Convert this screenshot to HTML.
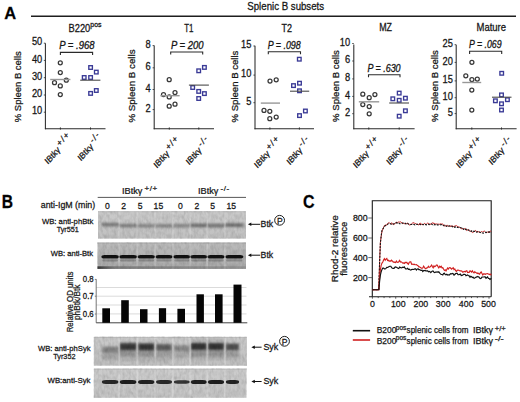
<!DOCTYPE html>
<html><head><meta charset="utf-8"><style>
html,body{margin:0;padding:0;background:#fff;width:520px;height:402px;overflow:hidden}
svg{display:block}
text{font-family:"Liberation Sans",sans-serif;stroke:#161616;stroke-width:0.25px}
</style></head><body>
<svg width="520" height="402" viewBox="0 0 520 402">
<defs><filter id="bl" x="-20%" y="-100%" width="140%" height="300%"><feGaussianBlur stdDeviation="0.75"/></filter><filter id="bl2" x="-20%" y="-100%" width="140%" height="300%"><feGaussianBlur stdDeviation="1.3"/></filter><filter id="noise" x="0" y="0" width="100%" height="100%"><feTurbulence type="fractalNoise" baseFrequency="0.35 0.2" numOctaves="2" seed="3"/><feColorMatrix type="matrix" values="0 0 0 0 0  0 0 0 0 0  0 0 0 0 0  0.9 0.9 0.9 0 -1.1"/></filter></defs>
<text transform="translate(4.3,19.4) scale(1,1.05)" font-size="16.5" font-weight="bold" stroke-width="0.3" fill="#000" >A</text>
<line x1="31" y1="16.3" x2="516" y2="16.3" stroke="#1e1e1e" stroke-width="1.5"/>
<text transform="translate(247.3,10.4) scale(1,1.12)" font-size="9.7" textLength="76.8" lengthAdjust="spacingAndGlyphs" fill="#161616" >Splenic B subsets</text>
<line x1="45.4" y1="43.2" x2="45.4" y2="129.3" stroke="#2a2a2a" stroke-width="1.05"/>
<line x1="44.9" y1="128.8" x2="105.5" y2="128.8" stroke="#2a2a2a" stroke-width="1.05"/>
<line x1="60.4" y1="127.4" x2="60.4" y2="129.60000000000002" stroke="#2a2a2a" stroke-width="0.9"/>
<line x1="90.5" y1="127.4" x2="90.5" y2="129.60000000000002" stroke="#2a2a2a" stroke-width="0.9"/>
<text transform="translate(42.3,45.4) scale(1,1.1)" font-size="9.3" text-anchor="end" fill="#161616" >50</text>
<line x1="43.8" y1="43.199999999999996" x2="45.4" y2="43.199999999999996" stroke="#2a2a2a" stroke-width="0.8"/>
<text transform="translate(42.3,62.6) scale(1,1.1)" font-size="9.3" text-anchor="end" fill="#161616" >40</text>
<line x1="43.8" y1="60.4" x2="45.4" y2="60.4" stroke="#2a2a2a" stroke-width="0.8"/>
<text transform="translate(42.3,79.9) scale(1,1.1)" font-size="9.3" text-anchor="end" fill="#161616" >30</text>
<line x1="43.8" y1="77.7" x2="45.4" y2="77.7" stroke="#2a2a2a" stroke-width="0.8"/>
<text transform="translate(42.3,97.2) scale(1,1.1)" font-size="9.3" text-anchor="end" fill="#161616" >20</text>
<line x1="43.8" y1="95.0" x2="45.4" y2="95.0" stroke="#2a2a2a" stroke-width="0.8"/>
<text transform="translate(42.3,114.4) scale(1,1.1)" font-size="9.3" text-anchor="end" fill="#161616" >10</text>
<line x1="43.8" y1="112.2" x2="45.4" y2="112.2" stroke="#2a2a2a" stroke-width="0.8"/>
<text transform="translate(68.6,31.6) scale(1,1.12)" font-size="9.3" fill="#161616">B220<tspan font-size="7" dy="-4">pos</tspan></text>
<text transform="translate(59.2,49.0) scale(1,1.2)" font-size="8.8" textLength="35.3" lengthAdjust="spacingAndGlyphs" font-style="italic" fill="#161616" >P = .968</text>
<path d="M60.4 55.0 V52.4 H92.6 V55.0" fill="none" stroke="#2a2a2a" stroke-width="1.1"/>
<circle cx="60.3" cy="62.8" r="2.0" fill="none" stroke="#383838" stroke-width="1.25"/>
<circle cx="60.3" cy="72.5" r="2.0" fill="none" stroke="#383838" stroke-width="1.25"/>
<circle cx="54.5" cy="82.7" r="2.0" fill="none" stroke="#383838" stroke-width="1.25"/>
<circle cx="66.3" cy="80.2" r="2.0" fill="none" stroke="#383838" stroke-width="1.25"/>
<circle cx="60.3" cy="85.9" r="2.0" fill="none" stroke="#383838" stroke-width="1.25"/>
<circle cx="60.3" cy="94.6" r="2.0" fill="none" stroke="#383838" stroke-width="1.25"/>
<rect x="88.8" y="65.7" width="3.6" height="3.6" fill="none" stroke="#3a3a96" stroke-width="1.35"/>
<rect x="94.5" y="70.3" width="3.6" height="3.6" fill="none" stroke="#3a3a96" stroke-width="1.35"/>
<rect x="82.4" y="75.7" width="3.6" height="3.6" fill="none" stroke="#3a3a96" stroke-width="1.35"/>
<rect x="88.8" y="75.7" width="3.6" height="3.6" fill="none" stroke="#3a3a96" stroke-width="1.35"/>
<rect x="94.5" y="88.7" width="3.6" height="3.6" fill="none" stroke="#3a3a96" stroke-width="1.35"/>
<rect x="88.8" y="91.60000000000001" width="3.6" height="3.6" fill="none" stroke="#3a3a96" stroke-width="1.35"/>
<line x1="50.2" y1="79.5" x2="70.4" y2="79.5" stroke="#979797" stroke-width="1.4"/>
<line x1="80.2" y1="80.2" x2="100.4" y2="80.2" stroke="#4a4a4a" stroke-width="1.1"/>
<text transform="translate(21.3,86.75) rotate(-90)" font-size="9.5" text-anchor="middle" textLength="70.9" lengthAdjust="spacingAndGlyphs" fill="#161616" >% Spleen B cells</text>
<text transform="translate(71.5,137.9) scale(1,1.15) rotate(-45)" text-anchor="end" font-size="8.0" fill="#161616">IBtk&#947;<tspan font-size="8.0" dy="-2.8" dx="1.6 1.1 1.1">+/+</tspan></text>
<text transform="translate(101.6,137.9) scale(1,1.15) rotate(-45)" text-anchor="end" font-size="8.0" fill="#161616">IBtk&#947;<tspan font-size="8.0" dy="-2.8" dx="1.6 1.1 1.1">-/-</tspan></text>
<line x1="154.2" y1="45.4" x2="154.2" y2="129.3" stroke="#2a2a2a" stroke-width="1.05"/>
<line x1="153.7" y1="128.8" x2="214" y2="128.8" stroke="#2a2a2a" stroke-width="1.05"/>
<line x1="169.3" y1="127.4" x2="169.3" y2="129.60000000000002" stroke="#2a2a2a" stroke-width="0.9"/>
<line x1="198.8" y1="127.4" x2="198.8" y2="129.60000000000002" stroke="#2a2a2a" stroke-width="0.9"/>
<text transform="translate(150.6,47.8) scale(1,1.1)" font-size="9.3" text-anchor="end" fill="#161616" >8</text>
<line x1="152.6" y1="45.599999999999994" x2="154.2" y2="45.599999999999994" stroke="#2a2a2a" stroke-width="0.8"/>
<text transform="translate(150.6,70.0) scale(1,1.1)" font-size="9.3" text-anchor="end" fill="#161616" >6</text>
<line x1="152.6" y1="67.8" x2="154.2" y2="67.8" stroke="#2a2a2a" stroke-width="0.8"/>
<text transform="translate(150.6,91.7) scale(1,1.1)" font-size="9.3" text-anchor="end" fill="#161616" >4</text>
<line x1="152.6" y1="89.5" x2="154.2" y2="89.5" stroke="#2a2a2a" stroke-width="0.8"/>
<text transform="translate(150.6,111.8) scale(1,1.1)" font-size="9.3" text-anchor="end" fill="#161616" >2</text>
<line x1="152.6" y1="109.6" x2="154.2" y2="109.6" stroke="#2a2a2a" stroke-width="0.8"/>
<text transform="translate(184.2,31.7) scale(1,1.13)" font-size="9.3" textLength="9.3" lengthAdjust="spacingAndGlyphs" fill="#161616" >T1</text>
<text transform="translate(171,49.2) scale(1,1.2)" font-size="8.8" textLength="32.5" lengthAdjust="spacingAndGlyphs" font-style="italic" fill="#161616" >P = 200</text>
<path d="M170.7 54.6 V52.0 H202.7 V54.6" fill="none" stroke="#2a2a2a" stroke-width="1.1"/>
<circle cx="169.2" cy="79.7" r="2.0" fill="none" stroke="#383838" stroke-width="1.25"/>
<circle cx="163.5" cy="94.6" r="2.0" fill="none" stroke="#383838" stroke-width="1.25"/>
<circle cx="169.2" cy="96.9" r="2.0" fill="none" stroke="#383838" stroke-width="1.25"/>
<circle cx="175" cy="92.6" r="2.0" fill="none" stroke="#383838" stroke-width="1.25"/>
<circle cx="169.2" cy="106.2" r="2.0" fill="none" stroke="#383838" stroke-width="1.25"/>
<circle cx="175" cy="104.2" r="2.0" fill="none" stroke="#383838" stroke-width="1.25"/>
<rect x="196.89999999999998" y="69.0" width="3.6" height="3.6" fill="none" stroke="#3a3a96" stroke-width="1.35"/>
<rect x="202.6" y="65.60000000000001" width="3.6" height="3.6" fill="none" stroke="#3a3a96" stroke-width="1.35"/>
<rect x="190.89999999999998" y="85.7" width="3.6" height="3.6" fill="none" stroke="#3a3a96" stroke-width="1.35"/>
<rect x="196.89999999999998" y="89.60000000000001" width="3.6" height="3.6" fill="none" stroke="#3a3a96" stroke-width="1.35"/>
<rect x="202.6" y="91.8" width="3.6" height="3.6" fill="none" stroke="#3a3a96" stroke-width="1.35"/>
<rect x="196.89999999999998" y="96.7" width="3.6" height="3.6" fill="none" stroke="#3a3a96" stroke-width="1.35"/>
<line x1="160.4" y1="95.7" x2="179.6" y2="95.7" stroke="#979797" stroke-width="1.4"/>
<line x1="188.9" y1="85.1" x2="208.9" y2="85.1" stroke="#4a4a4a" stroke-width="1.1"/>
<text transform="translate(135.2,86.0) rotate(-90)" font-size="9.5" text-anchor="middle" textLength="73.0" lengthAdjust="spacingAndGlyphs" fill="#161616" >% Spleen B cells</text>
<text transform="translate(180.4,141.70000000000002) scale(1,1.15) rotate(-45)" text-anchor="end" font-size="8.0" fill="#161616">IBtk&#947;<tspan font-size="8.0" dy="-2.8" dx="1.6 1.1 1.1">+/+</tspan></text>
<text transform="translate(209.9,141.70000000000002) scale(1,1.15) rotate(-45)" text-anchor="end" font-size="8.0" fill="#161616">IBtk&#947;<tspan font-size="8.0" dy="-2.8" dx="1.6 1.1 1.1">-/-</tspan></text>
<line x1="255" y1="45.8" x2="255" y2="129.3" stroke="#2a2a2a" stroke-width="1.05"/>
<line x1="254.5" y1="128.8" x2="314" y2="128.8" stroke="#2a2a2a" stroke-width="1.05"/>
<line x1="269.9" y1="127.4" x2="269.9" y2="129.60000000000002" stroke="#2a2a2a" stroke-width="0.9"/>
<line x1="299.4" y1="127.4" x2="299.4" y2="129.60000000000002" stroke="#2a2a2a" stroke-width="0.9"/>
<text transform="translate(251.4,48.2) scale(1,1.1)" font-size="9.3" text-anchor="end" fill="#161616" >15</text>
<line x1="253.4" y1="46.0" x2="255" y2="46.0" stroke="#2a2a2a" stroke-width="0.8"/>
<text transform="translate(251.4,77.3) scale(1,1.1)" font-size="9.3" text-anchor="end" fill="#161616" >10</text>
<line x1="253.4" y1="75.1" x2="255" y2="75.1" stroke="#2a2a2a" stroke-width="0.8"/>
<text transform="translate(251.4,104.9) scale(1,1.1)" font-size="9.3" text-anchor="end" fill="#161616" >5</text>
<line x1="253.4" y1="102.7" x2="255" y2="102.7" stroke="#2a2a2a" stroke-width="0.8"/>
<text transform="translate(281.5,31.7) scale(1,1.13)" font-size="9.3" textLength="10.5" lengthAdjust="spacingAndGlyphs" fill="#161616" >T2</text>
<text transform="translate(267.7,48.900000000000006) scale(1,1.2)" font-size="8.8" textLength="33" lengthAdjust="spacingAndGlyphs" font-style="italic" fill="#161616" >P = .098</text>
<path d="M268.3 54.3 V51.699999999999996 H300.5 V54.3" fill="none" stroke="#2a2a2a" stroke-width="1.1"/>
<circle cx="270" cy="81.1" r="2.0" fill="none" stroke="#383838" stroke-width="1.25"/>
<circle cx="276.2" cy="79.8" r="2.0" fill="none" stroke="#383838" stroke-width="1.25"/>
<circle cx="264" cy="110.4" r="2.0" fill="none" stroke="#383838" stroke-width="1.25"/>
<circle cx="269.8" cy="111.3" r="2.0" fill="none" stroke="#383838" stroke-width="1.25"/>
<circle cx="269.8" cy="118.7" r="2.0" fill="none" stroke="#383838" stroke-width="1.25"/>
<circle cx="276.2" cy="117.1" r="2.0" fill="none" stroke="#383838" stroke-width="1.25"/>
<rect x="297.5" y="57.400000000000006" width="3.6" height="3.6" fill="none" stroke="#3a3a96" stroke-width="1.35"/>
<rect x="291.7" y="83.8" width="3.6" height="3.6" fill="none" stroke="#3a3a96" stroke-width="1.35"/>
<rect x="297.7" y="81.4" width="3.6" height="3.6" fill="none" stroke="#3a3a96" stroke-width="1.35"/>
<rect x="297.7" y="89.0" width="3.6" height="3.6" fill="none" stroke="#3a3a96" stroke-width="1.35"/>
<rect x="303.59999999999997" y="109.2" width="3.6" height="3.6" fill="none" stroke="#3a3a96" stroke-width="1.35"/>
<rect x="297.7" y="113.8" width="3.6" height="3.6" fill="none" stroke="#3a3a96" stroke-width="1.35"/>
<line x1="260.8" y1="103.1" x2="280" y2="103.1" stroke="#979797" stroke-width="1.4"/>
<line x1="290" y1="91.2" x2="309.2" y2="91.2" stroke="#4a4a4a" stroke-width="1.1"/>
<text transform="translate(238.2,86.55) rotate(-90)" font-size="9.5" text-anchor="middle" textLength="71.9" lengthAdjust="spacingAndGlyphs" fill="#161616" >% Spleen B cells</text>
<text transform="translate(281.0,141.70000000000002) scale(1,1.15) rotate(-45)" text-anchor="end" font-size="8.0" fill="#161616">IBtk&#947;<tspan font-size="8.0" dy="-2.8" dx="1.6 1.1 1.1">+/+</tspan></text>
<text transform="translate(310.5,141.70000000000002) scale(1,1.15) rotate(-45)" text-anchor="end" font-size="8.0" fill="#161616">IBtk&#947;<tspan font-size="8.0" dy="-2.8" dx="1.6 1.1 1.1">-/-</tspan></text>
<line x1="353.8" y1="44.5" x2="353.8" y2="129.3" stroke="#2a2a2a" stroke-width="1.05"/>
<line x1="353.3" y1="128.8" x2="414.6" y2="128.8" stroke="#2a2a2a" stroke-width="1.05"/>
<line x1="368.8" y1="127.4" x2="368.8" y2="129.60000000000002" stroke="#2a2a2a" stroke-width="0.9"/>
<line x1="399.2" y1="127.4" x2="399.2" y2="129.60000000000002" stroke="#2a2a2a" stroke-width="0.9"/>
<text transform="translate(350.2,45.7) scale(1,1.1)" font-size="9.3" text-anchor="end" fill="#161616" >10</text>
<line x1="352.2" y1="43.5" x2="353.8" y2="43.5" stroke="#2a2a2a" stroke-width="0.8"/>
<text transform="translate(350.2,63.2) scale(1,1.1)" font-size="9.3" text-anchor="end" fill="#161616" >6</text>
<line x1="352.2" y1="61.0" x2="353.8" y2="61.0" stroke="#2a2a2a" stroke-width="0.8"/>
<text transform="translate(350.2,81.1) scale(1,1.1)" font-size="9.3" text-anchor="end" fill="#161616" >8</text>
<line x1="352.2" y1="78.89999999999999" x2="353.8" y2="78.89999999999999" stroke="#2a2a2a" stroke-width="0.8"/>
<text transform="translate(350.2,98.6) scale(1,1.1)" font-size="9.3" text-anchor="end" fill="#161616" >4</text>
<line x1="352.2" y1="96.39999999999999" x2="353.8" y2="96.39999999999999" stroke="#2a2a2a" stroke-width="0.8"/>
<text transform="translate(350.2,115.9) scale(1,1.1)" font-size="9.3" text-anchor="end" fill="#161616" >2</text>
<line x1="352.2" y1="113.7" x2="353.8" y2="113.7" stroke="#2a2a2a" stroke-width="0.8"/>
<text transform="translate(379.2,31.400000000000002) scale(1,1.13)" font-size="9.3" textLength="12.8" lengthAdjust="spacingAndGlyphs" fill="#161616" >MZ</text>
<text transform="translate(367.4,72.2) scale(1,1.2)" font-size="8.8" textLength="33.2" lengthAdjust="spacingAndGlyphs" font-style="italic" fill="#161616" >P = .630</text>
<path d="M368.5 77.3 V74.7 H400 V77.3" fill="none" stroke="#2a2a2a" stroke-width="1.1"/>
<circle cx="362.8" cy="94.2" r="2.0" fill="none" stroke="#383838" stroke-width="1.25"/>
<circle cx="369.2" cy="97.7" r="2.0" fill="none" stroke="#383838" stroke-width="1.25"/>
<circle cx="374.9" cy="94.6" r="2.0" fill="none" stroke="#383838" stroke-width="1.25"/>
<circle cx="362.8" cy="104.6" r="2.0" fill="none" stroke="#383838" stroke-width="1.25"/>
<circle cx="369.2" cy="106.5" r="2.0" fill="none" stroke="#383838" stroke-width="1.25"/>
<circle cx="369.2" cy="113.8" r="2.0" fill="none" stroke="#383838" stroke-width="1.25"/>
<rect x="397.4" y="91.3" width="3.6" height="3.6" fill="none" stroke="#3a3a96" stroke-width="1.35"/>
<rect x="391.0" y="97.0" width="3.6" height="3.6" fill="none" stroke="#3a3a96" stroke-width="1.35"/>
<rect x="397.4" y="98.5" width="3.6" height="3.6" fill="none" stroke="#3a3a96" stroke-width="1.35"/>
<rect x="403.59999999999997" y="96.4" width="3.6" height="3.6" fill="none" stroke="#3a3a96" stroke-width="1.35"/>
<rect x="403.59999999999997" y="109.0" width="3.6" height="3.6" fill="none" stroke="#3a3a96" stroke-width="1.35"/>
<rect x="397.4" y="114.4" width="3.6" height="3.6" fill="none" stroke="#3a3a96" stroke-width="1.35"/>
<line x1="358.8" y1="101.8" x2="379.2" y2="101.8" stroke="#979797" stroke-width="1.4"/>
<line x1="389.2" y1="103" x2="409" y2="103" stroke="#4a4a4a" stroke-width="1.1"/>
<text transform="translate(339.2,86.05000000000001) rotate(-90)" font-size="9.5" text-anchor="middle" textLength="71.7" lengthAdjust="spacingAndGlyphs" fill="#161616" >% Spleen B cells</text>
<text transform="translate(379.90000000000003,141.70000000000002) scale(1,1.15) rotate(-45)" text-anchor="end" font-size="8.0" fill="#161616">IBtk&#947;<tspan font-size="8.0" dy="-2.8" dx="1.6 1.1 1.1">+/+</tspan></text>
<text transform="translate(410.3,141.70000000000002) scale(1,1.15) rotate(-45)" text-anchor="end" font-size="8.0" fill="#161616">IBtk&#947;<tspan font-size="8.0" dy="-2.8" dx="1.6 1.1 1.1">-/-</tspan></text>
<line x1="456.2" y1="44.8" x2="456.2" y2="129.3" stroke="#2a2a2a" stroke-width="1.05"/>
<line x1="455.7" y1="128.8" x2="516.6" y2="128.8" stroke="#2a2a2a" stroke-width="1.05"/>
<line x1="471.8" y1="127.4" x2="471.8" y2="129.60000000000002" stroke="#2a2a2a" stroke-width="0.9"/>
<line x1="501.5" y1="127.4" x2="501.5" y2="129.60000000000002" stroke="#2a2a2a" stroke-width="0.9"/>
<text transform="translate(452.9,46.9) scale(1,1.1)" font-size="9.3" text-anchor="end" fill="#161616" >25</text>
<line x1="454.59999999999997" y1="44.699999999999996" x2="456.2" y2="44.699999999999996" stroke="#2a2a2a" stroke-width="0.8"/>
<text transform="translate(452.9,64.6) scale(1,1.1)" font-size="9.3" text-anchor="end" fill="#161616" >20</text>
<line x1="454.59999999999997" y1="62.4" x2="456.2" y2="62.4" stroke="#2a2a2a" stroke-width="0.8"/>
<text transform="translate(452.9,83.1) scale(1,1.1)" font-size="9.3" text-anchor="end" fill="#161616" >15</text>
<line x1="454.59999999999997" y1="80.89999999999999" x2="456.2" y2="80.89999999999999" stroke="#2a2a2a" stroke-width="0.8"/>
<text transform="translate(452.9,99.9) scale(1,1.1)" font-size="9.3" text-anchor="end" fill="#161616" >10</text>
<line x1="454.59999999999997" y1="97.7" x2="456.2" y2="97.7" stroke="#2a2a2a" stroke-width="0.8"/>
<text transform="translate(452.9,115.8) scale(1,1.1)" font-size="9.3" text-anchor="end" fill="#161616" >5</text>
<line x1="454.59999999999997" y1="113.6" x2="456.2" y2="113.6" stroke="#2a2a2a" stroke-width="0.8"/>
<text transform="translate(476.5,30.7) scale(1,1.13)" font-size="9.5" textLength="29.5" lengthAdjust="spacingAndGlyphs" fill="#161616" >Mature</text>
<text transform="translate(469,48.400000000000006) scale(1,1.2)" font-size="8.8" textLength="32.5" lengthAdjust="spacingAndGlyphs" font-style="italic" fill="#161616" >P = .069</text>
<path d="M469.6 53.9 V51.3 H501.7 V53.9" fill="none" stroke="#2a2a2a" stroke-width="1.1"/>
<circle cx="471.9" cy="62.3" r="2.0" fill="none" stroke="#383838" stroke-width="1.25"/>
<circle cx="465.8" cy="75.8" r="2.0" fill="none" stroke="#383838" stroke-width="1.25"/>
<circle cx="471.9" cy="79.6" r="2.0" fill="none" stroke="#383838" stroke-width="1.25"/>
<circle cx="477.3" cy="79" r="2.0" fill="none" stroke="#383838" stroke-width="1.25"/>
<circle cx="471.8" cy="90" r="2.0" fill="none" stroke="#383838" stroke-width="1.25"/>
<circle cx="471.8" cy="110" r="2.0" fill="none" stroke="#383838" stroke-width="1.25"/>
<rect x="499.9" y="71.5" width="3.6" height="3.6" fill="none" stroke="#3a3a96" stroke-width="1.35"/>
<rect x="499.7" y="93.10000000000001" width="3.6" height="3.6" fill="none" stroke="#3a3a96" stroke-width="1.35"/>
<rect x="493.59999999999997" y="99.0" width="3.6" height="3.6" fill="none" stroke="#3a3a96" stroke-width="1.35"/>
<rect x="505.59999999999997" y="97.9" width="3.6" height="3.6" fill="none" stroke="#3a3a96" stroke-width="1.35"/>
<rect x="499.7" y="102.0" width="3.6" height="3.6" fill="none" stroke="#3a3a96" stroke-width="1.35"/>
<rect x="499.7" y="108.2" width="3.6" height="3.6" fill="none" stroke="#3a3a96" stroke-width="1.35"/>
<line x1="462.3" y1="82.5" x2="481.2" y2="82.5" stroke="#979797" stroke-width="1.4"/>
<line x1="492" y1="97.2" x2="511.5" y2="97.2" stroke="#4a4a4a" stroke-width="1.1"/>
<text transform="translate(437.7,86.05000000000001) rotate(-90)" font-size="9.5" text-anchor="middle" textLength="71.7" lengthAdjust="spacingAndGlyphs" fill="#161616" >% Spleen B cells</text>
<text transform="translate(482.90000000000003,141.70000000000002) scale(1,1.15) rotate(-45)" text-anchor="end" font-size="8.0" fill="#161616">IBtk&#947;<tspan font-size="8.0" dy="-2.8" dx="1.6 1.1 1.1">+/+</tspan></text>
<text transform="translate(512.6,141.70000000000002) scale(1,1.15) rotate(-45)" text-anchor="end" font-size="8.0" fill="#161616">IBtk&#947;<tspan font-size="8.0" dy="-2.8" dx="1.6 1.1 1.1">-/-</tspan></text>
<text transform="translate(1.7,207.7) scale(1,1.13)" font-size="15.6" font-weight="bold" stroke-width="0.3" fill="#000" >B</text>
<text transform="translate(122,193.6) scale(1,0.97)" font-size="9.2" fill="#161616">IBtk&#947;<tspan font-size="8" dy="-2.4" dx="2.2" letter-spacing="0.5">+/+</tspan></text>
<text transform="translate(198,193.6) scale(1,0.97)" font-size="9.2" fill="#161616">IBtk&#947;<tspan font-size="8" dy="-2.4" dx="2.2" letter-spacing="0.5">-/-</tspan></text>
<line x1="97.7" y1="197.4" x2="246" y2="197.4" stroke="#444" stroke-width="0.9"/>
<text transform="translate(40.8,208) scale(1,1.12)" font-size="8.8" textLength="54.4" lengthAdjust="spacingAndGlyphs" fill="#161616" >anti-IgM (min)</text>
<text transform="translate(107.3,208.9) scale(1,1.12)" font-size="8.6" text-anchor="middle" fill="#161616" >0</text>
<text transform="translate(123.6,208.9) scale(1,1.12)" font-size="8.6" text-anchor="middle" fill="#161616" >2</text>
<text transform="translate(140.1,208.9) scale(1,1.12)" font-size="8.6" text-anchor="middle" fill="#161616" >5</text>
<text transform="translate(158.4,208.9) scale(1,1.12)" font-size="8.6" text-anchor="middle" fill="#161616" >15</text>
<text transform="translate(180.3,208.9) scale(1,1.12)" font-size="8.6" text-anchor="middle" fill="#161616" >0</text>
<text transform="translate(196.9,208.9) scale(1,1.12)" font-size="8.6" text-anchor="middle" fill="#161616" >2</text>
<text transform="translate(212.6,208.9) scale(1,1.12)" font-size="8.6" text-anchor="middle" fill="#161616" >5</text>
<text transform="translate(231.3,208.9) scale(1,1.12)" font-size="8.6" text-anchor="middle" fill="#161616" >15</text>
<text transform="translate(41.9,223.9) scale(1,1.04)" font-size="7.8" textLength="51.4" lengthAdjust="spacingAndGlyphs" fill="#161616" >WB: anti-phBtk</text>
<text transform="translate(56.7,231.6) scale(1,1.04)" font-size="7.8" textLength="22.1" lengthAdjust="spacingAndGlyphs" fill="#161616" >Tyr551</text>
<text transform="translate(50.75,256.4) scale(1,1.04)" font-size="7.8" textLength="42.25" lengthAdjust="spacingAndGlyphs" fill="#161616" >WB: anti-Btk</text>
<text transform="translate(38,350.9) scale(1,1.04)" font-size="7.8" textLength="52.5" lengthAdjust="spacingAndGlyphs" fill="#161616" >WB: anti-phSyk</text>
<text transform="translate(53.25,358.9) scale(1,1.04)" font-size="7.8" textLength="22.25" lengthAdjust="spacingAndGlyphs" fill="#161616" >Tyr352</text>
<text transform="translate(47.5,382.6) scale(1,1.04)" font-size="7.8" textLength="43" lengthAdjust="spacingAndGlyphs" fill="#161616" >WB:anti-Syk</text>
<linearGradient id="g186" x1="0" y1="0" x2="0" y2="1"><stop offset="0" stop-color="#cbcbcb"/><stop offset="1" stop-color="#c0c0c0"/></linearGradient>
<rect x="98" y="211.3" width="148" height="27.299999999999983" fill="url(#g186)"/>
<rect x="98" y="211.3" width="148" height="1" fill="#bcbcbc"/>
<rect x="101.4" y="222.70000000000002" width="17.599999999999994" height="3.8" rx="1" ry="1" fill="#4a4a4a" opacity="0.5775000000000001" filter="url(#bl2)"/>
<rect x="119.2" y="223.8" width="17.799999999999997" height="3.8" rx="1" ry="1" fill="#4a4a4a" opacity="0.525" filter="url(#bl2)"/>
<rect x="137.5" y="224.0" width="17.5" height="3.8" rx="1" ry="1" fill="#4a4a4a" opacity="0.47250000000000003" filter="url(#bl2)"/>
<rect x="155.5" y="224.0" width="17.0" height="3.8" rx="1" ry="1" fill="#4a4a4a" opacity="0.47250000000000003" filter="url(#bl2)"/>
<rect x="173.3" y="223.8" width="17.0" height="3.8" rx="1" ry="1" fill="#4a4a4a" opacity="0.441" filter="url(#bl2)"/>
<rect x="190.2" y="223.4" width="17.100000000000023" height="3.8" rx="1" ry="1" fill="#4a4a4a" opacity="0.651" filter="url(#bl2)"/>
<rect x="207.3" y="223.6" width="17.299999999999983" height="3.8" rx="1" ry="1" fill="#4a4a4a" opacity="0.5775000000000001" filter="url(#bl2)"/>
<rect x="225.3" y="223.20000000000002" width="18.0" height="3.8" rx="1" ry="1" fill="#4a4a4a" opacity="0.6825000000000001" filter="url(#bl2)"/>
<rect x="118.19999999999999" y="212.3" width="1.8" height="26.299999999999983" fill="#e8e8e8" opacity="0.25" filter="url(#bl)"/>
<rect x="136.35" y="212.3" width="1.8" height="26.299999999999983" fill="#e8e8e8" opacity="0.25" filter="url(#bl)"/>
<rect x="154.35" y="212.3" width="1.8" height="26.299999999999983" fill="#e8e8e8" opacity="0.25" filter="url(#bl)"/>
<rect x="172.0" y="212.3" width="1.8" height="26.299999999999983" fill="#e8e8e8" opacity="0.25" filter="url(#bl)"/>
<rect x="189.35" y="212.3" width="1.8" height="26.299999999999983" fill="#e8e8e8" opacity="0.25" filter="url(#bl)"/>
<rect x="206.4" y="212.3" width="1.8" height="26.299999999999983" fill="#e8e8e8" opacity="0.25" filter="url(#bl)"/>
<rect x="224.04999999999998" y="212.3" width="1.8" height="26.299999999999983" fill="#e8e8e8" opacity="0.25" filter="url(#bl)"/>
<rect x="98" y="211.3" width="148" height="27.299999999999983" filter="url(#noise)" opacity="0.13"/>
<linearGradient id="g205" x1="0" y1="0" x2="0" y2="1"><stop offset="0" stop-color="#bdbdbd"/><stop offset="1" stop-color="#a8a8a8"/></linearGradient>
<rect x="97.5" y="242.6" width="148.5" height="26.299999999999983" fill="url(#g205)"/>
<rect x="97.5" y="242.6" width="148.5" height="1" fill="#adadad"/>
<rect x="102.4" y="259.2" width="15.599999999999994" height="2.4" rx="1" ry="1" fill="#666" opacity="0.5" filter="url(#bl)"/>
<rect x="101.4" y="254.95" width="17.599999999999994" height="3.5" rx="3" ry="1.75" fill="#111" opacity="0.97" filter="url(#bl)"/>
<rect x="120.2" y="259.2" width="15.799999999999997" height="2.4" rx="1" ry="1" fill="#666" opacity="0.5" filter="url(#bl)"/>
<rect x="119.2" y="254.95" width="17.799999999999997" height="3.5" rx="3" ry="1.75" fill="#111" opacity="0.97" filter="url(#bl)"/>
<rect x="138.5" y="259.2" width="15.5" height="2.4" rx="1" ry="1" fill="#666" opacity="0.5" filter="url(#bl)"/>
<rect x="137.5" y="254.95" width="17.5" height="3.5" rx="3" ry="1.75" fill="#111" opacity="0.97" filter="url(#bl)"/>
<rect x="156.5" y="259.2" width="15.0" height="2.4" rx="1" ry="1" fill="#666" opacity="0.5" filter="url(#bl)"/>
<rect x="155.5" y="254.95" width="17.0" height="3.5" rx="3" ry="1.75" fill="#111" opacity="0.97" filter="url(#bl)"/>
<rect x="174.3" y="259.2" width="15.0" height="2.4" rx="1" ry="1" fill="#666" opacity="0.5" filter="url(#bl)"/>
<rect x="173.3" y="254.95" width="17.0" height="3.5" rx="3" ry="1.75" fill="#111" opacity="0.97" filter="url(#bl)"/>
<rect x="191.2" y="259.2" width="15.100000000000023" height="2.4" rx="1" ry="1" fill="#666" opacity="0.5" filter="url(#bl)"/>
<rect x="190.2" y="254.95" width="17.100000000000023" height="3.5" rx="3" ry="1.75" fill="#111" opacity="0.97" filter="url(#bl)"/>
<rect x="208.3" y="259.2" width="15.299999999999983" height="2.4" rx="1" ry="1" fill="#666" opacity="0.5" filter="url(#bl)"/>
<rect x="207.3" y="254.95" width="17.299999999999983" height="3.5" rx="3" ry="1.75" fill="#111" opacity="0.97" filter="url(#bl)"/>
<rect x="226.3" y="259.2" width="16.0" height="2.4" rx="1" ry="1" fill="#666" opacity="0.5" filter="url(#bl)"/>
<rect x="225.3" y="254.95" width="18.0" height="3.5" rx="3" ry="1.75" fill="#111" opacity="0.97" filter="url(#bl)"/>
<rect x="118.19999999999999" y="243.6" width="1.8" height="25.299999999999983" fill="#e8e8e8" opacity="0.25" filter="url(#bl)"/>
<rect x="136.35" y="243.6" width="1.8" height="25.299999999999983" fill="#e8e8e8" opacity="0.25" filter="url(#bl)"/>
<rect x="154.35" y="243.6" width="1.8" height="25.299999999999983" fill="#e8e8e8" opacity="0.25" filter="url(#bl)"/>
<rect x="172.0" y="243.6" width="1.8" height="25.299999999999983" fill="#e8e8e8" opacity="0.25" filter="url(#bl)"/>
<rect x="189.35" y="243.6" width="1.8" height="25.299999999999983" fill="#e8e8e8" opacity="0.25" filter="url(#bl)"/>
<rect x="206.4" y="243.6" width="1.8" height="25.299999999999983" fill="#e8e8e8" opacity="0.25" filter="url(#bl)"/>
<rect x="224.04999999999998" y="243.6" width="1.8" height="25.299999999999983" fill="#e8e8e8" opacity="0.25" filter="url(#bl)"/>
<rect x="97.5" y="242.6" width="148.5" height="26.299999999999983" filter="url(#noise)" opacity="0.13"/>
<linearGradient id="b2b" x1="0" y1="0" x2="1" y2="0"><stop offset="0" stop-color="#222" stop-opacity="0.85"/><stop offset="0.12" stop-color="#555" stop-opacity="0.55"/><stop offset="1" stop-color="#666" stop-opacity="0.3"/></linearGradient>
<rect x="97.5" y="266.3" width="148.5" height="2.6" fill="url(#b2b)"/>
<linearGradient id="g234" x1="0" y1="0" x2="0" y2="1"><stop offset="0" stop-color="#cacaca"/><stop offset="1" stop-color="#c0c0c0"/></linearGradient>
<rect x="93.9" y="336.9" width="152.9" height="28.80000000000001" fill="url(#g234)"/>
<rect x="93.9" y="336.9" width="152.9" height="1" fill="#bcbcbc"/>
<rect x="101.9" y="346.25" width="16.599999999999994" height="13.5" rx="1" ry="1" fill="#6a6a6a" opacity="0.3" filter="url(#bl2)"/>
<rect x="102.4" y="347.25" width="15.599999999999994" height="5.5" rx="1" ry="1" fill="#5a5a5a" opacity="0.5" filter="url(#bl2)"/>
<rect x="119.7" y="342.55" width="16.799999999999997" height="14.5" rx="1" ry="1" fill="#6a6a6a" opacity="0.51" filter="url(#bl2)"/>
<rect x="120.2" y="343.55" width="15.799999999999997" height="6.5" rx="1" ry="1" fill="#262626" opacity="0.85" filter="url(#bl2)"/>
<rect x="138.0" y="342.75" width="16.5" height="14.5" rx="1" ry="1" fill="#6a6a6a" opacity="0.51" filter="url(#bl2)"/>
<rect x="138.5" y="343.75" width="15.5" height="6.5" rx="1" ry="1" fill="#262626" opacity="0.85" filter="url(#bl2)"/>
<rect x="156.0" y="343.6" width="16.0" height="14" rx="1" ry="1" fill="#6a6a6a" opacity="0.39" filter="url(#bl2)"/>
<rect x="156.5" y="344.6" width="15.0" height="6" rx="1" ry="1" fill="#3a3a3a" opacity="0.65" filter="url(#bl2)"/>
<rect x="173.8" y="344.65" width="16.0" height="13.5" rx="1" ry="1" fill="#6a6a6a" opacity="0.27" filter="url(#bl2)"/>
<rect x="174.3" y="345.65" width="15.0" height="5.5" rx="1" ry="1" fill="#5a5a5a" opacity="0.45" filter="url(#bl2)"/>
<rect x="190.7" y="342.15" width="16.100000000000023" height="14.5" rx="1" ry="1" fill="#6a6a6a" opacity="0.528" filter="url(#bl2)"/>
<rect x="191.2" y="343.15" width="15.100000000000023" height="6.5" rx="1" ry="1" fill="#262626" opacity="0.88" filter="url(#bl2)"/>
<rect x="207.8" y="342.15" width="16.299999999999983" height="14.5" rx="1" ry="1" fill="#6a6a6a" opacity="0.528" filter="url(#bl2)"/>
<rect x="208.3" y="343.15" width="15.299999999999983" height="6.5" rx="1" ry="1" fill="#262626" opacity="0.88" filter="url(#bl2)"/>
<rect x="225.8" y="343.0" width="13.299999999999983" height="14" rx="1" ry="1" fill="#6a6a6a" opacity="0.432" filter="url(#bl2)"/>
<rect x="226.3" y="344.0" width="12.299999999999983" height="6" rx="1" ry="1" fill="#333" opacity="0.72" filter="url(#bl2)"/>
<rect x="120" y="357.5" width="52" height="4" rx="1" ry="1" fill="#888" opacity="0.25" filter="url(#bl2)"/>
<rect x="191" y="356.5" width="49" height="4" rx="1" ry="1" fill="#888" opacity="0.2" filter="url(#bl2)"/>
<rect x="190" y="339.0" width="34" height="3" rx="1" ry="1" fill="#999" opacity="0.4" filter="url(#bl2)"/>
<rect x="118.19999999999999" y="337.9" width="1.8" height="27.80000000000001" fill="#e8e8e8" opacity="0.35" filter="url(#bl)"/>
<rect x="136.35" y="337.9" width="1.8" height="27.80000000000001" fill="#e8e8e8" opacity="0.35" filter="url(#bl)"/>
<rect x="154.35" y="337.9" width="1.8" height="27.80000000000001" fill="#e8e8e8" opacity="0.35" filter="url(#bl)"/>
<rect x="172.0" y="337.9" width="1.8" height="27.80000000000001" fill="#e8e8e8" opacity="0.35" filter="url(#bl)"/>
<rect x="189.35" y="337.9" width="1.8" height="27.80000000000001" fill="#e8e8e8" opacity="0.35" filter="url(#bl)"/>
<rect x="206.4" y="337.9" width="1.8" height="27.80000000000001" fill="#e8e8e8" opacity="0.35" filter="url(#bl)"/>
<rect x="224.04999999999998" y="337.9" width="1.8" height="27.80000000000001" fill="#e8e8e8" opacity="0.35" filter="url(#bl)"/>
<rect x="93.9" y="336.9" width="152.9" height="28.80000000000001" filter="url(#noise)" opacity="0.13"/>
<linearGradient id="g264" x1="0" y1="0" x2="0" y2="1"><stop offset="0" stop-color="#cccccc"/><stop offset="1" stop-color="#c4c4c4"/></linearGradient>
<rect x="93.9" y="368.7" width="152.6" height="29.100000000000023" fill="url(#g264)"/>
<rect x="93.9" y="368.7" width="152.6" height="1" fill="#bcbcbc"/>
<rect x="101.9" y="380.1" width="16.599999999999994" height="3.8" rx="4" ry="1.9" fill="#141414" opacity="0.9" filter="url(#bl)"/>
<rect x="119.7" y="379.9" width="16.799999999999997" height="4.2" rx="4" ry="2.1" fill="#141414" opacity="0.95" filter="url(#bl)"/>
<rect x="138.0" y="380.0" width="16.5" height="4.0" rx="4" ry="2.0" fill="#141414" opacity="0.92" filter="url(#bl)"/>
<rect x="156.0" y="380.1" width="16.0" height="3.8" rx="4" ry="1.9" fill="#141414" opacity="0.88" filter="url(#bl)"/>
<rect x="173.8" y="380.3" width="16.0" height="3.4" rx="4" ry="1.7" fill="#141414" opacity="0.82" filter="url(#bl)"/>
<rect x="190.7" y="379.9" width="16.100000000000023" height="4.2" rx="4" ry="2.1" fill="#141414" opacity="0.95" filter="url(#bl)"/>
<rect x="207.8" y="379.9" width="16.299999999999983" height="4.2" rx="4" ry="2.1" fill="#141414" opacity="0.95" filter="url(#bl)"/>
<rect x="225.8" y="380.1" width="13.299999999999983" height="3.8" rx="4" ry="1.9" fill="#141414" opacity="0.92" filter="url(#bl)"/>
<rect x="118.19999999999999" y="369.7" width="1.8" height="28.100000000000023" fill="#e8e8e8" opacity="0.35" filter="url(#bl)"/>
<rect x="136.35" y="369.7" width="1.8" height="28.100000000000023" fill="#e8e8e8" opacity="0.35" filter="url(#bl)"/>
<rect x="154.35" y="369.7" width="1.8" height="28.100000000000023" fill="#e8e8e8" opacity="0.35" filter="url(#bl)"/>
<rect x="172.0" y="369.7" width="1.8" height="28.100000000000023" fill="#e8e8e8" opacity="0.35" filter="url(#bl)"/>
<rect x="189.35" y="369.7" width="1.8" height="28.100000000000023" fill="#e8e8e8" opacity="0.35" filter="url(#bl)"/>
<rect x="206.4" y="369.7" width="1.8" height="28.100000000000023" fill="#e8e8e8" opacity="0.35" filter="url(#bl)"/>
<rect x="224.04999999999998" y="369.7" width="1.8" height="28.100000000000023" fill="#e8e8e8" opacity="0.35" filter="url(#bl)"/>
<rect x="93.9" y="368.7" width="152.6" height="29.100000000000023" filter="url(#noise)" opacity="0.13"/>
<line x1="249.9" y1="224.3" x2="260.2" y2="224.3" stroke="#111" stroke-width="1"/>
<path d="M247.9 224.3 L251.3 222.60000000000002 L251.3 226.0 Z" fill="#111"/>
<text transform="translate(260.6,227.2) scale(1,1.12)" font-size="8.6" textLength="12.6" lengthAdjust="spacingAndGlyphs" fill="#161616" >Btk</text>
<circle cx="279.6" cy="220.3" r="4.9" fill="none" stroke="#111" stroke-width="0.95"/>
<text transform="translate(279.8,223.5) scale(1,1.05)" font-size="8.6" text-anchor="middle" fill="#161616" >P</text>
<line x1="249.9" y1="255.2" x2="260.2" y2="255.2" stroke="#111" stroke-width="1"/>
<path d="M247.9 255.2 L251.3 253.5 L251.3 256.9 Z" fill="#111"/>
<text transform="translate(260.6,258.0) scale(1,1.12)" font-size="8.6" textLength="12.6" lengthAdjust="spacingAndGlyphs" fill="#161616" >Btk</text>
<line x1="253.4" y1="347.2" x2="261.6" y2="347.2" stroke="#111" stroke-width="1"/>
<path d="M251.4 347.2 L254.8 345.5 L254.8 348.9 Z" fill="#111"/>
<text transform="translate(263.4,349.8) scale(1,1.12)" font-size="8.6" textLength="14.9" lengthAdjust="spacingAndGlyphs" fill="#161616" >Syk</text>
<circle cx="284.5" cy="341.3" r="4.9" fill="none" stroke="#111" stroke-width="0.95"/>
<text transform="translate(284.7,344.5) scale(1,1.05)" font-size="8.6" text-anchor="middle" fill="#161616" >P</text>
<line x1="253.4" y1="381.5" x2="261.6" y2="381.5" stroke="#111" stroke-width="1"/>
<path d="M251.4 381.5 L254.8 379.8 L254.8 383.2 Z" fill="#111"/>
<text transform="translate(263.4,383.6) scale(1,1.12)" font-size="8.6" textLength="14.9" lengthAdjust="spacingAndGlyphs" fill="#161616" >Syk</text>
<line x1="96.2" y1="287.5" x2="246.5" y2="287.5" stroke="#d2d2d2" stroke-width="0.8"/>
<line x1="96.2" y1="296.2" x2="246.5" y2="296.2" stroke="#d2d2d2" stroke-width="0.8"/>
<line x1="96.2" y1="305" x2="246.5" y2="305" stroke="#d2d2d2" stroke-width="0.8"/>
<line x1="96.2" y1="313.9" x2="246.5" y2="313.9" stroke="#d2d2d2" stroke-width="0.8"/>
<line x1="96.2" y1="279.2" x2="96.2" y2="322.8" stroke="#666" stroke-width="0.9"/>
<line x1="96.2" y1="322.8" x2="247.3" y2="322.8" stroke="#444" stroke-width="1"/>
<text transform="translate(93.7,282.4) scale(1,1.15)" font-size="7.8" text-anchor="end" fill="#161616" >0.8</text>
<line x1="94.8" y1="279.4" x2="96.2" y2="279.4" stroke="#666" stroke-width="0.8"/>
<text transform="translate(93.7,299.2) scale(1,1.15)" font-size="7.8" text-anchor="end" fill="#161616" >0.7</text>
<line x1="94.8" y1="296.2" x2="96.2" y2="296.2" stroke="#666" stroke-width="0.8"/>
<text transform="translate(93.7,317.0) scale(1,1.15)" font-size="7.8" text-anchor="end" fill="#161616" >0.6</text>
<line x1="94.8" y1="314" x2="96.2" y2="314" stroke="#666" stroke-width="0.8"/>
<rect x="102.3" y="308.3" width="7.700000000000003" height="14.5" fill="#050505"/>
<rect x="121.2" y="300.2" width="7.6000000000000085" height="22.600000000000023" fill="#050505"/>
<rect x="140" y="309.2" width="7.5" height="13.600000000000023" fill="#050505"/>
<rect x="158.9" y="308.2" width="7.199999999999989" height="14.600000000000023" fill="#050505"/>
<rect x="177.4" y="308.8" width="7.599999999999994" height="14.0" fill="#050505"/>
<rect x="196.5" y="294.3" width="7.400000000000006" height="28.5" fill="#050505"/>
<rect x="215" y="294.3" width="7.599999999999994" height="28.5" fill="#050505"/>
<rect x="233.5" y="284.6" width="8.0" height="38.19999999999999" fill="#050505"/>
<text transform="translate(72.5,301.9) rotate(-90)" font-size="8.4" text-anchor="middle" textLength="60.8" lengthAdjust="spacingAndGlyphs" fill="#161616" >Relative OD units</text>
<text transform="translate(79.7,302.3) rotate(-90)" font-size="8.9" text-anchor="middle" textLength="35.5" lengthAdjust="spacingAndGlyphs" fill="#161616" >phBtk/Btk</text>
<text transform="translate(302.9,207.9) scale(1,1.1)" font-size="16" font-weight="bold" stroke-width="0.3" fill="#000" >C</text>
<path d="M372.3 296.8 V200.7 H491.2 V296.8" fill="none" stroke="#1a1a1a" stroke-width="1.1"/>
<line x1="369" y1="296.8" x2="491.2" y2="296.8" stroke="#1a1a1a" stroke-width="1.1"/>
<line x1="372.4" y1="296.8" x2="372.4" y2="298.7" stroke="#333" stroke-width="0.8"/>
<line x1="378.22999999999996" y1="296.8" x2="378.22999999999996" y2="298.1" stroke="#333" stroke-width="0.8"/>
<line x1="384.06" y1="296.8" x2="384.06" y2="298.1" stroke="#333" stroke-width="0.8"/>
<line x1="389.89" y1="296.8" x2="389.89" y2="298.1" stroke="#333" stroke-width="0.8"/>
<line x1="395.71999999999997" y1="296.8" x2="395.71999999999997" y2="298.7" stroke="#333" stroke-width="0.8"/>
<line x1="401.54999999999995" y1="296.8" x2="401.54999999999995" y2="298.1" stroke="#333" stroke-width="0.8"/>
<line x1="407.38" y1="296.8" x2="407.38" y2="298.1" stroke="#333" stroke-width="0.8"/>
<line x1="413.21" y1="296.8" x2="413.21" y2="298.1" stroke="#333" stroke-width="0.8"/>
<line x1="419.03999999999996" y1="296.8" x2="419.03999999999996" y2="298.7" stroke="#333" stroke-width="0.8"/>
<line x1="424.87" y1="296.8" x2="424.87" y2="298.1" stroke="#333" stroke-width="0.8"/>
<line x1="430.7" y1="296.8" x2="430.7" y2="298.1" stroke="#333" stroke-width="0.8"/>
<line x1="436.53" y1="296.8" x2="436.53" y2="298.1" stroke="#333" stroke-width="0.8"/>
<line x1="442.36" y1="296.8" x2="442.36" y2="298.7" stroke="#333" stroke-width="0.8"/>
<line x1="448.19" y1="296.8" x2="448.19" y2="298.1" stroke="#333" stroke-width="0.8"/>
<line x1="454.02" y1="296.8" x2="454.02" y2="298.1" stroke="#333" stroke-width="0.8"/>
<line x1="459.85" y1="296.8" x2="459.85" y2="298.1" stroke="#333" stroke-width="0.8"/>
<line x1="465.68" y1="296.8" x2="465.68" y2="298.7" stroke="#333" stroke-width="0.8"/>
<line x1="471.51" y1="296.8" x2="471.51" y2="298.1" stroke="#333" stroke-width="0.8"/>
<line x1="477.34" y1="296.8" x2="477.34" y2="298.1" stroke="#333" stroke-width="0.8"/>
<line x1="483.16999999999996" y1="296.8" x2="483.16999999999996" y2="298.1" stroke="#333" stroke-width="0.8"/>
<line x1="489.0" y1="296.8" x2="489.0" y2="298.7" stroke="#333" stroke-width="0.8"/>
<text transform="translate(372.4,307.2) scale(1,1.1)" font-size="8.8" text-anchor="middle" fill="#161616" >0</text>
<text transform="translate(398.3,307.2) scale(1,1.1)" font-size="8.8" text-anchor="middle" fill="#161616" >100</text>
<text transform="translate(420.9,307.2) scale(1,1.1)" font-size="8.8" text-anchor="middle" fill="#161616" >200</text>
<text transform="translate(443.2,307.2) scale(1,1.1)" font-size="8.8" text-anchor="middle" fill="#161616" >300</text>
<text transform="translate(466.2,307.2) scale(1,1.1)" font-size="8.8" text-anchor="middle" fill="#161616" >400</text>
<text transform="translate(488.5,307.2) scale(1,1.1)" font-size="8.8" text-anchor="middle" fill="#161616" >500</text>
<text transform="translate(367.6,221.2) scale(1,1.1)" font-size="8.8" text-anchor="end" fill="#161616" >800</text>
<line x1="368.3" y1="218" x2="372.3" y2="218" stroke="#444" stroke-width="0.8"/>
<text transform="translate(367.6,241.2) scale(1,1.1)" font-size="8.8" text-anchor="end" fill="#161616" >600</text>
<line x1="368.3" y1="238" x2="372.3" y2="238" stroke="#444" stroke-width="0.8"/>
<text transform="translate(367.6,260.8) scale(1,1.1)" font-size="8.8" text-anchor="end" fill="#161616" >400</text>
<line x1="368.3" y1="257.6" x2="372.3" y2="257.6" stroke="#444" stroke-width="0.8"/>
<text transform="translate(367.6,280.8) scale(1,1.1)" font-size="8.8" text-anchor="end" fill="#161616" >200</text>
<line x1="368.3" y1="277.6" x2="372.3" y2="277.6" stroke="#444" stroke-width="0.8"/>
<text transform="translate(338.4,248.7) rotate(-90)" font-size="9.5" text-anchor="middle" textLength="67" lengthAdjust="spacingAndGlyphs" fill="#161616" >Rhod-2 relative</text>
<text transform="translate(347.2,248.7) rotate(-90)" font-size="9.5" text-anchor="middle" textLength="54" lengthAdjust="spacingAndGlyphs" fill="#161616" >fluorescence</text>
<path d="M372.4 289.7 L378.8 289.7 L379.6 261.6 L380.4 242.2 L381.2 236.4 L382.0 231.1 L382.8 229.1 L383.6 227.4 L384.4 225.5 L385.2 225.2 L386.0 225.1 L386.8 225.1 L387.6 223.5 L388.4 223.0 L389.2 222.5 L390.0 223.6 L390.8 223.9 L391.6 222.7 L392.4 224.0 L393.2 224.6 L394.0 224.2 L394.8 223.9 L395.6 222.9 L396.4 222.1 L397.2 222.7 L398.0 222.1 L398.8 222.0 L399.6 222.1 L400.4 221.8 L401.2 222.4 L402.0 222.7 L402.8 223.7 L403.6 223.5 L404.4 223.7 L405.2 223.5 L406.0 223.8 L406.8 223.5 L407.6 223.0 L408.4 224.2 L409.2 224.9 L410.0 224.9 L410.8 224.6 L411.6 223.7 L412.4 223.1 L413.2 223.0 L414.0 222.5 L414.8 223.6 L415.6 223.5 L416.4 224.3 L417.2 223.8 L418.0 224.7 L418.8 225.0 L419.6 223.4 L420.4 223.1 L421.2 224.3 L422.0 224.1 L422.8 225.0 L423.6 224.3 L424.4 223.3 L425.2 223.9 L426.0 224.5 L426.8 223.8 L427.6 223.1 L428.4 223.3 L429.2 224.6 L430.0 224.9 L430.8 223.7 L431.6 223.4 L432.4 223.0 L433.2 222.7 L434.0 224.0 L434.8 223.5 L435.6 224.0 L436.4 224.1 L437.2 223.6 L438.0 224.5 L438.8 223.7 L439.6 224.4 L440.4 223.8 L441.2 224.1 L442.0 223.9 L442.8 224.0 L443.6 225.5 L444.4 226.0 L445.2 225.3 L446.0 226.2 L446.8 225.3 L447.6 225.3 L448.4 226.3 L449.2 226.4 L450.0 225.5 L450.8 226.8 L451.6 226.0 L452.4 225.7 L453.2 226.7 L454.0 226.3 L454.8 226.1 L455.6 225.7 L456.4 225.5 L457.2 226.5 L458.0 226.3 L458.8 227.1 L459.6 227.2 L460.4 227.5 L461.2 228.8 L462.0 228.6 L462.8 228.8 L463.6 229.6 L464.4 228.7 L465.2 228.4 L466.0 229.8 L466.8 230.5 L467.6 229.8 L468.4 229.5 L469.2 230.6 L470.0 231.6 L470.8 230.8 L471.6 232.0 L472.4 232.5 L473.2 232.2 L474.0 231.7 L474.8 230.9 L475.6 230.4 L476.4 232.0 L477.2 231.4 L478.0 232.1 L478.8 231.6 L479.6 232.5 L480.4 232.5 L481.2 231.9 L482.0 231.4 L482.8 232.2 L483.6 231.3 L484.4 231.1 L485.2 231.7 L486.0 232.6 L486.8 232.6 L487.6 231.9 L488.4 232.8 L489.2 231.9 L490.0 231.0 L490.8 231.1 L491.0 231.5" fill="none" stroke="#c62828" stroke-width="1.0"/>
<path d="M372.4 289.7 L378.8 289.7 L379.6 262.5 L380.4 243.2 L381.2 235.7 L382.0 230.5 L382.8 229.3 L383.6 227.7 L384.4 226.6 L385.2 225.7 L386.0 225.3 L386.8 224.9 L387.6 224.4 L388.4 223.7 L389.2 223.7 L390.0 223.6 L390.8 223.9 L391.6 224.4 L392.4 224.5 L393.2 224.1 L394.0 223.7 L394.8 223.3 L395.6 222.9 L396.4 222.7 L397.2 223.1 L398.0 223.1 L398.8 223.2 L399.6 223.8 L400.4 223.7 L401.2 223.7 L402.0 223.4 L402.8 222.9 L403.6 223.1 L404.4 222.9 L405.2 223.3 L406.0 224.0 L406.8 224.1 L407.6 223.5 L408.4 224.1 L409.2 224.3 L410.0 224.3 L410.8 224.5 L411.6 224.5 L412.4 224.5 L413.2 224.1 L414.0 224.6 L414.8 224.8 L415.6 224.1 L416.4 224.3 L417.2 224.5 L418.0 224.2 L418.8 224.2 L419.6 224.2 L420.4 224.7 L421.2 224.4 L422.0 224.7 L422.8 224.3 L423.6 224.7 L424.4 225.0 L425.2 224.6 L426.0 224.5 L426.8 224.9 L427.6 224.9 L428.4 224.6 L429.2 224.2 L430.0 224.1 L430.8 224.5 L431.6 224.1 L432.4 224.7 L433.2 224.4 L434.0 224.9 L434.8 224.5 L435.6 225.0 L436.4 225.1 L437.2 224.9 L438.0 224.8 L438.8 225.0 L439.6 225.0 L440.4 224.8 L441.2 224.6 L442.0 224.9 L442.8 225.6 L443.6 225.7 L444.4 225.2 L445.2 225.8 L446.0 226.0 L446.8 226.4 L447.6 225.9 L448.4 226.3 L449.2 225.8 L450.0 226.3 L450.8 226.2 L451.6 226.1 L452.4 226.8 L453.2 226.4 L454.0 226.7 L454.8 227.3 L455.6 226.9 L456.4 226.8 L457.2 227.5 L458.0 227.4 L458.8 227.9 L459.6 227.5 L460.4 227.7 L461.2 227.8 L462.0 228.5 L462.8 228.3 L463.6 229.3 L464.4 228.8 L465.2 229.5 L466.0 229.2 L466.8 229.4 L467.6 230.3 L468.4 230.1 L469.2 230.2 L470.0 230.9 L470.8 231.1 L471.6 230.9 L472.4 231.9 L473.2 231.5 L474.0 231.2 L474.8 231.4 L475.6 231.8 L476.4 232.2 L477.2 231.8 L478.0 231.9 L478.8 231.6 L479.6 232.0 L480.4 232.5 L481.2 232.7 L482.0 233.0 L482.8 233.0 L483.6 233.1 L484.4 233.0 L485.2 232.7 L486.0 232.2 L486.8 232.5 L487.6 232.2 L488.4 231.9 L489.2 232.1 L490.0 232.7 L490.8 232.1 L491.0 232.4" fill="none" stroke="#151515" stroke-width="1.1" stroke-dasharray="2.0 1.2"/>
<path d="M372.4 289.7 L378.8 289.7 L379.6 277.2 L380.4 269.6 L381.2 265.1 L382.0 263.1 L382.8 262.0 L383.6 260.0 L384.4 258.7 L385.2 260.2 L386.0 259.1 L386.8 258.5 L387.6 260.6 L388.4 260.3 L389.2 261.3 L390.0 260.8 L390.8 261.2 L391.6 260.1 L392.4 261.0 L393.2 262.1 L394.0 261.9 L394.8 262.4 L395.6 262.6 L396.4 261.1 L397.2 262.3 L398.0 262.4 L398.8 261.6 L399.6 260.4 L400.4 262.1 L401.2 261.8 L402.0 262.4 L402.8 263.1 L403.6 262.9 L404.4 263.4 L405.2 262.2 L406.0 262.7 L406.8 262.2 L407.6 263.5 L408.4 264.2 L409.2 262.4 L410.0 261.8 L410.8 261.9 L411.6 264.2 L412.4 264.0 L413.2 264.6 L414.0 264.1 L414.8 264.6 L415.6 264.7 L416.4 264.6 L417.2 265.3 L418.0 265.7 L418.8 266.9 L419.6 266.9 L420.4 267.6 L421.2 267.9 L422.0 268.4 L422.8 267.9 L423.6 266.2 L424.4 267.4 L425.2 268.4 L426.0 268.7 L426.8 267.9 L427.6 267.8 L428.4 266.3 L429.2 267.3 L430.0 267.1 L430.8 266.1 L431.6 265.0 L432.4 266.6 L433.2 267.8 L434.0 265.8 L434.8 266.8 L435.6 266.2 L436.4 265.1 L437.2 265.0 L438.0 266.6 L438.8 267.8 L439.6 266.3 L440.4 267.2 L441.2 266.3 L442.0 267.8 L442.8 267.7 L443.6 269.3 L444.4 270.5 L445.2 269.9 L446.0 270.9 L446.8 269.5 L447.6 268.1 L448.4 269.0 L449.2 267.8 L450.0 267.7 L450.8 268.3 L451.6 269.1 L452.4 268.3 L453.2 267.6 L454.0 269.6 L454.8 269.0 L455.6 270.7 L456.4 271.4 L457.2 270.3 L458.0 270.1 L458.8 270.3 L459.6 270.7 L460.4 270.9 L461.2 270.9 L462.0 271.2 L462.8 272.3 L463.6 271.7 L464.4 271.3 L465.2 271.9 L466.0 271.0 L466.8 270.7 L467.6 272.6 L468.4 272.3 L469.2 272.3 L470.0 270.8 L470.8 271.3 L471.6 272.1 L472.4 270.9 L473.2 272.1 L474.0 272.8 L474.8 271.6 L475.6 272.6 L476.4 272.8 L477.2 273.5 L478.0 273.0 L478.8 273.8 L479.6 274.3 L480.4 272.7 L481.2 272.0 L482.0 273.4 L482.8 275.0 L483.6 273.9 L484.4 273.9 L485.2 274.4 L486.0 273.9 L486.8 273.8 L487.6 273.7 L488.4 273.9 L489.2 274.6 L490.0 274.2 L490.8 274.3 L491.0 275.4" fill="none" stroke="#d02020" stroke-width="1.15"/>
<path d="M372.4 289.7 L378.8 289.7 L379.6 281.4 L380.4 275.1 L381.2 271.7 L382.0 269.4 L382.8 268.1 L383.6 268.0 L384.4 268.8 L385.2 268.8 L386.0 268.4 L386.8 267.4 L387.6 267.5 L388.4 267.0 L389.2 266.6 L390.0 266.2 L390.8 266.2 L391.6 267.6 L392.4 268.2 L393.2 268.4 L394.0 268.4 L394.8 267.3 L395.6 266.9 L396.4 267.3 L397.2 267.7 L398.0 268.2 L398.8 268.5 L399.6 267.0 L400.4 267.4 L401.2 267.8 L402.0 267.7 L402.8 267.1 L403.6 267.4 L404.4 266.9 L405.2 268.4 L406.0 269.1 L406.8 268.8 L407.6 268.3 L408.4 269.3 L409.2 269.2 L410.0 269.8 L410.8 270.1 L411.6 269.6 L412.4 269.3 L413.2 269.5 L414.0 269.4 L414.8 268.8 L415.6 268.9 L416.4 270.0 L417.2 269.1 L418.0 268.7 L418.8 269.7 L419.6 269.6 L420.4 270.1 L421.2 270.3 L422.0 270.2 L422.8 271.5 L423.6 270.6 L424.4 270.6 L425.2 270.3 L426.0 271.1 L426.8 270.8 L427.6 270.8 L428.4 271.7 L429.2 271.4 L430.0 271.7 L430.8 272.6 L431.6 271.6 L432.4 271.0 L433.2 271.1 L434.0 272.3 L434.8 272.6 L435.6 272.1 L436.4 272.1 L437.2 271.8 L438.0 272.3 L438.8 271.8 L439.6 272.9 L440.4 273.9 L441.2 274.5 L442.0 274.5 L442.8 275.0 L443.6 273.4 L444.4 273.2 L445.2 274.5 L446.0 274.8 L446.8 274.2 L447.6 275.0 L448.4 274.8 L449.2 275.1 L450.0 274.3 L450.8 273.7 L451.6 273.9 L452.4 273.5 L453.2 273.8 L454.0 275.1 L454.8 274.5 L455.6 273.6 L456.4 273.3 L457.2 273.4 L458.0 274.7 L458.8 274.6 L459.6 274.4 L460.4 274.0 L461.2 275.6 L462.0 275.4 L462.8 274.9 L463.6 274.4 L464.4 274.3 L465.2 274.5 L466.0 275.7 L466.8 275.3 L467.6 274.9 L468.4 275.7 L469.2 275.7 L470.0 277.2 L470.8 276.3 L471.6 276.8 L472.4 277.5 L473.2 277.2 L474.0 278.3 L474.8 277.9 L475.6 277.2 L476.4 277.2 L477.2 276.5 L478.0 276.9 L478.8 276.8 L479.6 278.1 L480.4 278.6 L481.2 278.2 L482.0 277.1 L482.8 277.0 L483.6 277.0 L484.4 276.9 L485.2 276.9 L486.0 278.3 L486.8 277.5 L487.6 276.9 L488.4 278.4 L489.2 278.5 L490.0 279.4 L490.8 278.7 L491.0 279.3" fill="none" stroke="#111" stroke-width="1.15"/>
<line x1="352.8" y1="330.7" x2="370.1" y2="330.7" stroke="#111" stroke-width="1.6"/>
<line x1="352.8" y1="340.0" x2="370.1" y2="340.0" stroke="#d02020" stroke-width="1.6"/>
<text transform="translate(376.7,333.4) scale(1,1.0)" font-size="8.4" fill="#161616" >B200</text>
<text transform="translate(395.8,329.7) scale(1,1.0)" font-size="7.2" textLength="10.6" lengthAdjust="spacingAndGlyphs" fill="#161616" >pos</text>
<text transform="translate(406.6,333.4) scale(1,1.0)" font-size="8.4" textLength="61.8" lengthAdjust="spacingAndGlyphs" fill="#161616" >splenic cells from</text>
<text transform="translate(472.9,333.4) scale(1,1.0)" font-size="8.4" textLength="20.0" lengthAdjust="spacingAndGlyphs" fill="#161616" >IBtk&#947;</text>
<text transform="translate(494.8,330.79999999999995) scale(1,1.0)" font-size="7.4" textLength="11.0" lengthAdjust="spacingAndGlyphs" fill="#161616" >+/+</text>
<text transform="translate(376.7,343.7) scale(1,1.0)" font-size="8.4" fill="#161616" >B200</text>
<text transform="translate(395.8,340.0) scale(1,1.0)" font-size="7.2" textLength="10.6" lengthAdjust="spacingAndGlyphs" fill="#161616" >pos</text>
<text transform="translate(406.6,343.7) scale(1,1.0)" font-size="8.4" textLength="61.8" lengthAdjust="spacingAndGlyphs" fill="#161616" >splenic cells from</text>
<text transform="translate(472.9,343.7) scale(1,1.0)" font-size="8.4" textLength="20.0" lengthAdjust="spacingAndGlyphs" fill="#161616" >IBtk&#947;</text>
<text transform="translate(494.8,341.09999999999997) scale(1,1.0)" font-size="7.4" textLength="9.0" lengthAdjust="spacingAndGlyphs" fill="#161616" >-/-</text>
</svg>
</body></html>
